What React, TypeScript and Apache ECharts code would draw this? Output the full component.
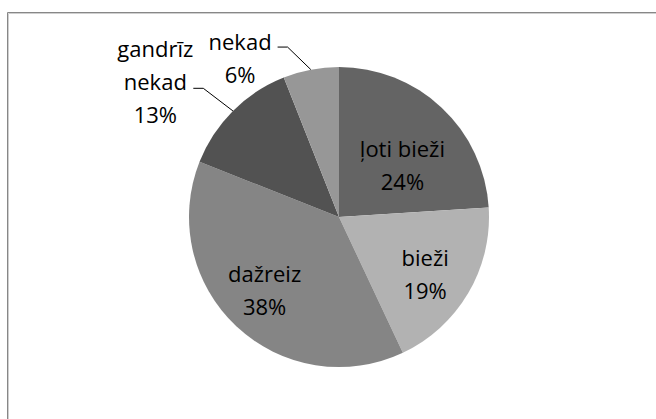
import React, { useEffect, useRef } from "react";
import * as echarts from "echarts";

// ---- data ----
const categories = ["ļoti bieži", "bieži", "dažreiz", "gandrīz nekad", "nekad"];
const shares = [24, 19, 38, 13, 6];

// ---- styles ----
const sliceColors = ["#646464", "#b2b2b2", "#858585", "#525252", "#979797"];
const labelOutside = [false, false, false, true, true];
const labelOffsets = [
  [10, 4],
  [19, 17],
  [-21, 16],
  [0, -7],
  [0, 10],
];
const lineLength = [0, 0, 0, 32, 23];
const lineLength2 = [0, 0, 0, 17, 29];
const lineDistance = [5, 5, 5, 0, 6];

const FONT = "'Open Sans', 'Noto Sans', sans-serif";

export default function App() {
  const ref = useRef<HTMLDivElement>(null);

  useEffect(() => {
    if (!ref.current) return;
    const chart = echarts.init(ref.current, undefined, { renderer: "svg" });

    const data = categories.map((name, i) => ({
      name,
      value: shares[i],
      itemStyle: { color: sliceColors[i] },
      label: labelOutside[i]
        ? { position: "outside", distanceToLabelLine: lineDistance[i] }
        : { position: "inside" },
      labelLine: labelOutside[i]
        ? {
            show: true,
            length: lineLength[i],
            length2: lineLength2[i],
            smooth: false,
            lineStyle: { color: "#000", width: 1 },
          }
        : { show: false },
    }));

    chart.setOption({
      animation: false,
      backgroundColor: "#ffffff",
      graphic: [
        { type: "line", silent: true, shape: { x1: 7.5, y1: 12.5, x2: 656, y2: 12.5 }, style: { stroke: "#878787", lineWidth: 1 } },
        { type: "line", silent: true, shape: { x1: 8.5, y1: 13.5, x2: 656, y2: 13.5 }, style: { stroke: "#cfcfcf", lineWidth: 1 } },
        { type: "line", silent: true, shape: { x1: 7.5, y1: 12.5, x2: 7.5, y2: 419 }, style: { stroke: "#878787", lineWidth: 1 } },
        { type: "line", silent: true, shape: { x1: 8.5, y1: 13.5, x2: 8.5, y2: 419 }, style: { stroke: "#cfcfcf", lineWidth: 1 } },
      ],
      series: [
        {
          type: "pie",
          center: [339, 217],
          radius: 150,
          startAngle: 90,
          clockwise: true,
          avoidLabelOverlap: false,
          silent: true,
          emphasis: { disabled: true, scale: false },
          itemStyle: { borderWidth: 0 },
          label: {
            show: true,
            formatter: (p: any) => {
              const i = p.dataIndex;
              const nameLines = labelOutside[i] ? String(p.name).split(" ") : [p.name];
              const lines = [...nameLines, Math.round(p.percent) + "%"];
              return lines.map((l) => `{c|${l}}`).join("\n");
            },
            rich: {
              c: {
                align: "center",
                fontFamily: FONT,
                fontSize: 22,
                lineHeight: 33,
                color: "#000",
              },
            },
          },
          labelLayout: (p: any) => {
            const i = p.dataIndex;
            const r = p.labelRect;
            const [ox, oy] = labelOffsets[i];
            const ax = labelOutside[i] ? r.x + r.width : r.x + r.width / 2;
            const res: any = { x: ax + ox, y: r.y + r.height / 2 + oy };
            if (labelOutside[i] && p.labelLinePoints && p.labelLinePoints.length === 3) {
              const p0 = p.labelLinePoints[0];
              const p2 = p.labelLinePoints[2];
              const dir = p2[0] < p0[0] ? 1 : -1;
              res.labelLinePoints = [p0, [p2[0] + dir * 10, p2[1]], p2];
            }
            return res;
          },
          data,
        },
      ],
    });

    return () => chart.dispose();
  }, []);

  return (
    <div
      ref={ref}
      style={{ position: "absolute", left: 0, top: 0, width: 656, height: 419 }}
    />
  );
}
